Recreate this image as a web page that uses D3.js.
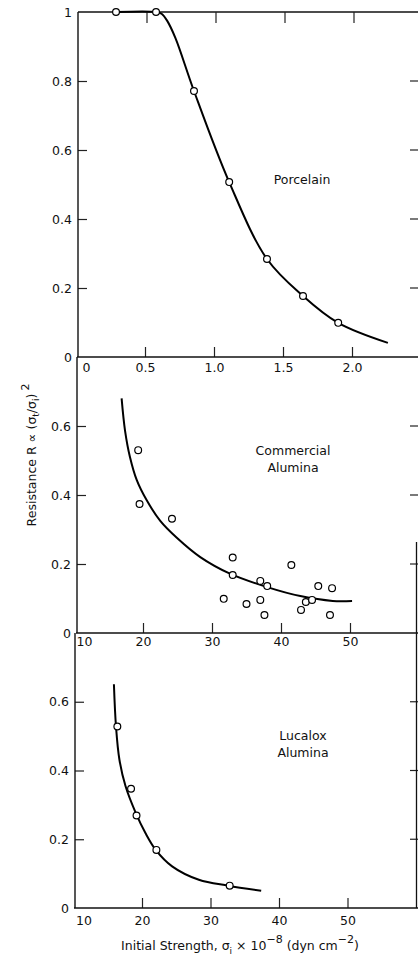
<!DOCTYPE html>
<html lang="en">

<head>
  <meta charset="UTF-8">
  <title>Resistance vs initial strength</title>
  <style>
    body { margin: 0; background: #fff; }
    text { font-family: "DejaVu Sans", sans-serif; fill: #111; }
  </style>
</head>

<body>

  <script src="https://cdn.jsdelivr.net/npm/d3@7"></script>
  <script>
    var width = 418;
    var height = 961;

    // Porcelain (x in 10^-8 dyn cm^-2 scaled as printed)
    var porcelainX = [0.29, 0.58, 0.855, 1.11, 1.384, 1.645, 1.9];
    var porcelainR = [1.0, 1.0, 0.771, 0.507, 0.284, 0.177, 0.099];
    var porcelainCurveX = [0.29, 0.58, 0.62, 0.66, 0.72, 0.855, 1.11, 1.384, 1.645, 1.9, 2.26];
    var porcelainCurveR = [1.0, 1.0, 0.995, 0.975, 0.925, 0.771, 0.507, 0.284, 0.177, 0.099, 0.041];

    // Commercial alumina
    var commercialX = [19.3, 19.5, 24.2, 33.0, 33.0, 31.7, 35.0, 37.0, 38.0, 37.0, 37.6, 41.5, 42.9, 43.6, 44.5, 45.4, 47.4, 47.1];
    var commercialR = [0.530, 0.374, 0.331, 0.219, 0.168, 0.099, 0.084, 0.151, 0.136, 0.096, 0.052, 0.197, 0.067, 0.090, 0.096, 0.136, 0.130, 0.052];
    var commercialCurveX = [16.9, 17.4, 18.1, 19.1, 20.5, 22.5, 24.9, 28.3, 32.6, 38.0, 42.8, 47.5, 50.3];
    var commercialCurveR = [0.680, 0.586, 0.511, 0.443, 0.386, 0.325, 0.276, 0.220, 0.172, 0.133, 0.107, 0.093, 0.093];

    // Lucalox alumina
    var lucaloxX = [16.4, 18.4, 19.2, 22.1, 32.8];
    var lucaloxR = [0.528, 0.347, 0.269, 0.169, 0.065];
    var lucaloxCurveX = [15.9, 16.2, 16.7, 17.6, 19.1, 20.5, 22.0, 24.4, 28.3, 32.6, 37.4];
    var lucaloxCurveR = [0.651, 0.529, 0.432, 0.354, 0.276, 0.218, 0.169, 0.121, 0.082, 0.065, 0.050];

    // ticks
    var porcelainTicks = [0, 0.5, 1.0, 1.5, 2.0];
    var aluminaTicks = [10, 20, 30, 40, 50];
    var porcelainYTicks = [0, 0.2, 0.4, 0.6, 0.8, 1];
    var aluminaYTicks = [0, 0.2, 0.4, 0.6];

    var svg = d3.select("body")
      .append("svg")
      .attr("width", width)
      .attr("height", height);

    var right = 418;

    var panels = [
      {
        name: ["Porcelain"], labelX: 302, labelY: 184,
        x: d3.scaleLinear().domain([0, 2]).range([76, 352]),
        y: d3.scaleLinear().domain([0, 1]).range([357, 12]),
        left: 78, xTicks: porcelainTicks, yTicks: porcelainYTicks, pad: 6, top: true,
        px: porcelainX, py: porcelainR, cx: porcelainCurveX, cy: porcelainCurveR,
        fmtX: function (d) { return d === 0 ? "0" : d.toFixed(1); }
      },
      {
        name: ["Commercial", "Alumina"], labelX: 293, labelY: 455,
        x: d3.scaleLinear().domain([10, 50]).range([74, 350]),
        y: d3.scaleLinear().domain([0, 0.8]).range([633, 357]),
        left: 77, xTicks: aluminaTicks, yTicks: aluminaYTicks, pad: 4, top: false,
        px: commercialX, py: commercialR, cx: commercialCurveX, cy: commercialCurveR,
        fmtX: d3.format("d")
      },
      {
        name: ["Lucalox", "Alumina"], labelX: 303, labelY: 740,
        x: d3.scaleLinear().domain([10, 50]).range([73.5, 347.5]),
        y: d3.scaleLinear().domain([0, 0.8]).range([908, 633]),
        left: 75, xTicks: aluminaTicks, yTicks: aluminaYTicks, pad: 8, top: false,
        px: lucaloxX, py: lucaloxR, cx: lucaloxCurveX, cy: lucaloxCurveR,
        fmtX: d3.format("d")
      }
    ];

    var fmtY = function (d) { return (d === 0 || d === 1) ? String(d) : d.toFixed(1); };

    panels.forEach(function (p) {
      var g = svg.append("g");
      var y0 = p.y.range()[0], y1 = p.y.range()[1];

      // bottom axis, ticks pointing up into the panel
      var xa = g.append("g")
        .attr("transform", "translate(0," + y0 + ")")
        .call(d3.axisBottom(p.x).tickValues(p.xTicks).tickSizeInner(-10).tickSizeOuter(0)
          .tickPadding(p.pad).tickFormat(p.fmtX));
      xa.select(".domain").remove();
      xa.selectAll("text").attr("font-size", 12.5).attr("font-family", "DejaVu Sans");
      xa.selectAll(".tick").filter(function (d, i) { return i === 0; })
        .select("text").attr("dx", 10);
      xa.selectAll(".tick").filter(function (d, i) { return i === 0; })
        .select("line").remove();
      xa.selectAll("line").attr("stroke", "#222").attr("stroke-width", 1.2);

      g.append("line")
        .attr("x1", p.left - 1).attr("x2", right)
        .attr("y1", y0).attr("y2", y0)
        .attr("stroke", "#111").attr("stroke-width", 1.6);

      // left axis
      var ya = g.append("g")
        .attr("transform", "translate(" + p.left + ",0)")
        .call(d3.axisLeft(p.y).tickValues(p.yTicks).tickSizeInner(-9).tickSizeOuter(0)
          .tickPadding(6).tickFormat(fmtY));
      ya.select(".domain").remove();
      ya.selectAll("text").attr("font-size", 12.5).attr("font-family", "DejaVu Sans");
      ya.selectAll(".tick").filter(function (d) { return d === 0 || d === 1; })
        .select("line").remove();
      ya.selectAll("line").attr("stroke", "#222").attr("stroke-width", 1.2);

      g.append("line")
        .attr("x1", p.left).attr("x2", p.left)
        .attr("y1", y1).attr("y2", y0)
        .attr("stroke", "#111").attr("stroke-width", 1.4);

      // short ticks on the right edge
      g.selectAll(".rtick")
        .data(p.yTicks.filter(function (d) { return d > 0 && d < 1; }))
        .enter()
        .append("line")
        .attr("x1", right - 8).attr("x2", right)
        .attr("y1", function (d) { return p.y(d); })
        .attr("y2", function (d) { return p.y(d); })
        .attr("stroke", "#222").attr("stroke-width", 1.2);

      if (p.top) {
        g.append("line")
          .attr("x1", p.left).attr("x2", right)
          .attr("y1", y1).attr("y2", y1)
          .attr("stroke", "#111").attr("stroke-width", 1.6);
        g.selectAll(".ttick")
          .data(p.xTicks.filter(function (d) { return d > 0; }))
          .enter()
          .append("line")
          .attr("x1", function (d) { return p.x(d) + 2; })
          .attr("x2", function (d) { return p.x(d) + 2; })
          .attr("y1", y1).attr("y2", y1 + 11)
          .attr("stroke", "#222").attr("stroke-width", 1.2);
      }

      // fitted curve
      var pts = p.cx.map(function (v, i) { return [v, p.cy[i]]; });
      var line = d3.line()
        .x(function (d) { return p.x(d[0]); })
        .y(function (d) { return p.y(d[1]); })
        .curve(d3.curveCatmullRom.alpha(0.5));
      g.append("path")
        .attr("d", line(pts))
        .attr("fill", "none")
        .attr("stroke", "#000")
        .attr("stroke-width", 2);

      // data points
      g.selectAll("circle")
        .data(p.px.map(function (v, i) { return [v, p.py[i]]; }))
        .enter()
        .append("circle")
        .attr("cx", function (d) { return p.x(d[0]); })
        .attr("cy", function (d) { return p.y(d[1]); })
        .attr("r", 3.4)
        .attr("fill", "#fff")
        .attr("stroke", "#000")
        .attr("stroke-width", 1.2);

      // panel label
      var t = g.append("text")
        .attr("x", p.labelX).attr("y", p.labelY)
        .attr("text-anchor", "middle")
        .attr("font-size", 12.5);
      p.name.forEach(function (s, i) {
        t.append("tspan").attr("x", p.labelX).attr("dy", i === 0 ? 0 : 17).text(s);
      });
    });

    // right frame (lower part)
    svg.append("line")
      .attr("x1", 416.5).attr("x2", 416.5)
      .attr("y1", 542).attr("y2", 908)
      .attr("stroke", "#111").attr("stroke-width", 1.3);

    // y axis title
    var yt = svg.append("text")
      .attr("transform", "translate(36,455) rotate(-90)")
      .attr("text-anchor", "middle")
      .attr("font-size", 12.5);
    yt.append("tspan").text("Resistance R \u221d (\u03c3");
    yt.append("tspan").attr("font-size", 9).attr("dy", 3).text("t");
    yt.append("tspan").attr("dy", -3).text("/\u03c3");
    yt.append("tspan").attr("font-size", 9).attr("dy", 3).text("i");
    yt.append("tspan").attr("dy", -3).text(")");
    yt.append("tspan").attr("font-size", 11).attr("dy", -7).attr("dx", 3).text("2");

    // x axis title
    var xt = svg.append("text")
      .attr("x", 240).attr("y", 950)
      .attr("text-anchor", "middle")
      .attr("font-size", 12.5);
    xt.append("tspan").text("Initial Strength, \u03c3");
    xt.append("tspan").attr("font-size", 9).attr("dy", 4).text("i");
    xt.append("tspan").attr("dy", -4).text(" \u00d7 10");
    xt.append("tspan").attr("font-size", 11).attr("dy", -7).text("\u22128");
    xt.append("tspan").attr("dy", 7).text(" (dyn  cm");
    xt.append("tspan").attr("font-size", 11).attr("dy", -7).text("\u22122");
    xt.append("tspan").attr("dy", 7).text(")");
  </script>
</body>

</html>
